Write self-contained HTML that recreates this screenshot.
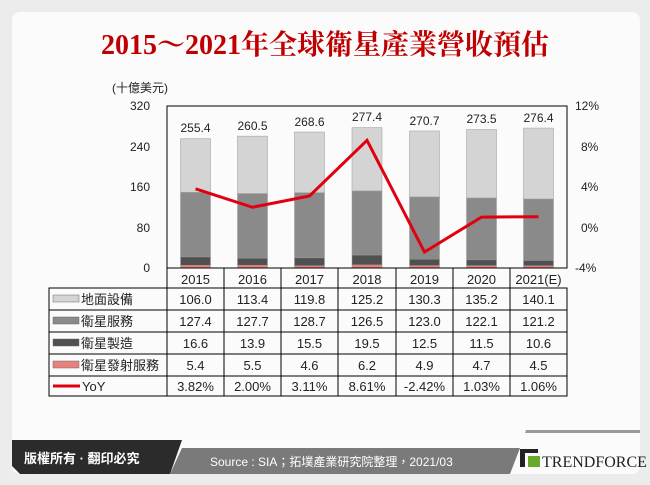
<!DOCTYPE html>
<html><head><meta charset="utf-8"><style>
body{margin:0;width:650px;height:485px;background:#ececec;overflow:hidden}
svg{display:block}
text{font-family:"Liberation Sans","Noto Sans CJK TC",sans-serif}
</style></head><body>
<svg width="650" height="485" viewBox="0 0 650 485" xmlns="http://www.w3.org/2000/svg">
<rect x="12" y="12" width="628" height="462" rx="8" fill="#fbfbfb"/>
<text x="325" y="54" text-anchor="middle" font-size="28" font-weight="bold" fill="#c00000" style="font-family:'Liberation Serif','Noto Serif CJK SC',serif">2015～2021年全球衛星產業營收預估</text>
<text x="112" y="92" font-size="12" fill="#222">(十億美元)</text>
<g font-size="12" fill="#222" text-anchor="end">
<text x="150" y="110">320</text><text x="150" y="151">240</text><text x="150" y="191">160</text><text x="150" y="232">80</text><text x="150" y="272">0</text>
</g>
<g font-size="12" fill="#222">
<text x="575" y="110">12%</text><text x="581" y="151">8%</text><text x="581" y="191">4%</text><text x="581" y="232">0%</text><text x="575" y="272">-4%</text>
</g>
<g stroke="#999" stroke-width="0.5">
<rect x="180.5" y="265.27" width="30" height="2.73" fill="#e88080"/><rect x="180.5" y="256.87" width="30" height="8.4" fill="#505050"/><rect x="180.5" y="192.37" width="30" height="64.5" fill="#8a8a8a"/><rect x="180.5" y="138.71" width="30" height="53.66" fill="#d4d4d4"/>
<rect x="237.5" y="265.22" width="30" height="2.78" fill="#e88080"/><rect x="237.5" y="258.18" width="30" height="7.04" fill="#505050"/><rect x="237.5" y="193.53" width="30" height="64.65" fill="#8a8a8a"/><rect x="237.5" y="136.12" width="30" height="57.41" fill="#d4d4d4"/>
<rect x="294.5" y="265.67" width="30" height="2.33" fill="#e88080"/><rect x="294.5" y="257.82" width="30" height="7.85" fill="#505050"/><rect x="294.5" y="192.67" width="30" height="65.15" fill="#8a8a8a"/><rect x="294.5" y="132.02" width="30" height="60.65" fill="#d4d4d4"/>
<rect x="352" y="264.86" width="30" height="3.14" fill="#e88080"/><rect x="352" y="254.99" width="30" height="9.87" fill="#505050"/><rect x="352" y="190.95" width="30" height="64.04" fill="#8a8a8a"/><rect x="352" y="127.57" width="30" height="63.38" fill="#d4d4d4"/>
<rect x="409.5" y="265.52" width="30" height="2.48" fill="#e88080"/><rect x="409.5" y="259.19" width="30" height="6.33" fill="#505050"/><rect x="409.5" y="196.92" width="30" height="62.27" fill="#8a8a8a"/><rect x="409.5" y="130.96" width="30" height="65.96" fill="#d4d4d4"/>
<rect x="466.5" y="265.62" width="30" height="2.38" fill="#e88080"/><rect x="466.5" y="259.8" width="30" height="5.82" fill="#505050"/><rect x="466.5" y="197.99" width="30" height="61.81" fill="#8a8a8a"/><rect x="466.5" y="129.54" width="30" height="68.45" fill="#d4d4d4"/>
<rect x="523.5" y="265.72" width="30" height="2.28" fill="#e88080"/><rect x="523.5" y="260.35" width="30" height="5.37" fill="#505050"/><rect x="523.5" y="198.99" width="30" height="61.36" fill="#8a8a8a"/><rect x="523.5" y="128.06" width="30" height="70.93" fill="#d4d4d4"/>
</g>
<g font-size="12" fill="#222" text-anchor="middle">
<text x="195.5" y="132">255.4</text><text x="252.5" y="130">260.5</text><text x="309.5" y="126">268.6</text><text x="367" y="121">277.4</text><text x="424.5" y="125">270.7</text><text x="481.5" y="123">273.5</text><text x="538.5" y="122">276.4</text>
</g>
<polyline points="195.5,188.8 252.5,207.25 309.5,196 367,140.3 424.5,252 481.5,217.07 538.5,216.77" fill="none" stroke="#e00010" stroke-width="3"/>
<rect x="167" y="106" width="400" height="162" fill="none" stroke="#000" stroke-width="1"/>
<g stroke="#000" stroke-width="1" fill="none">
<rect x="49" y="288" width="518" height="108"/>
<line x1="167" y1="268" x2="167" y2="396"/>
<line x1="49" y1="310" x2="567" y2="310"/><line x1="49" y1="332" x2="567" y2="332"/><line x1="49" y1="354" x2="567" y2="354"/><line x1="49" y1="376" x2="567" y2="376"/>
<line x1="224" y1="268" x2="224" y2="396"/><line x1="281" y1="268" x2="281" y2="396"/><line x1="338" y1="268" x2="338" y2="396"/><line x1="396" y1="268" x2="396" y2="396"/><line x1="453" y1="268" x2="453" y2="396"/><line x1="510" y1="268" x2="510" y2="396"/>
</g>
<g font-size="13" fill="#222" text-anchor="middle">
<text x="195.5" y="284">2015</text><text x="252.5" y="284">2016</text><text x="309.5" y="284">2017</text><text x="367" y="284">2018</text><text x="424.5" y="284">2019</text><text x="481.5" y="284">2020</text><text x="538.5" y="284">2021(E)</text>
<text x="195.5" y="304">106.0</text><text x="252.5" y="304">113.4</text><text x="309.5" y="304">119.8</text><text x="367" y="304">125.2</text><text x="424.5" y="304">130.3</text><text x="481.5" y="304">135.2</text><text x="538.5" y="304">140.1</text>
<text x="195.5" y="326">127.4</text><text x="252.5" y="326">127.7</text><text x="309.5" y="326">128.7</text><text x="367" y="326">126.5</text><text x="424.5" y="326">123.0</text><text x="481.5" y="326">122.1</text><text x="538.5" y="326">121.2</text>
<text x="195.5" y="348">16.6</text><text x="252.5" y="348">13.9</text><text x="309.5" y="348">15.5</text><text x="367" y="348">19.5</text><text x="424.5" y="348">12.5</text><text x="481.5" y="348">11.5</text><text x="538.5" y="348">10.6</text>
<text x="195.5" y="370">5.4</text><text x="252.5" y="370">5.5</text><text x="309.5" y="370">4.6</text><text x="367" y="370">6.2</text><text x="424.5" y="370">4.9</text><text x="481.5" y="370">4.7</text><text x="538.5" y="370">4.5</text>
<text x="195.5" y="391">3.82%</text><text x="252.5" y="391">2.00%</text><text x="309.5" y="391">3.11%</text><text x="367" y="391">8.61%</text><text x="424.5" y="391">-2.42%</text><text x="481.5" y="391">1.03%</text><text x="538.5" y="391">1.06%</text>
</g>
<rect x="53" y="295" width="26" height="7" fill="#d4d4d4" stroke="#666" stroke-width="0.5"/>
<rect x="53" y="317" width="26" height="7" fill="#8a8a8a" stroke="#666" stroke-width="0.5"/>
<rect x="53" y="339" width="26" height="7" fill="#505050" stroke="#666" stroke-width="0.5"/>
<rect x="53" y="361" width="26" height="7" fill="#e88080" stroke="#666" stroke-width="0.5"/>
<line x1="53" y1="386" x2="80" y2="386" stroke="#e00010" stroke-width="3"/>
<g font-size="13" fill="#222">
<text x="81" y="304">地面設備</text><text x="81" y="326">衛星服務</text><text x="81" y="348">衛星製造</text><text x="81" y="370">衛星發射服務</text><text x="82" y="391">YoY</text>
</g>
<polygon points="12,440 182,440 170,474 20,474 12,466" fill="#2b2b2b"/>
<polygon points="182,448 520,448 510,474 170,474" fill="#7a7a7a"/>
<polygon points="526,430 640,430 640,433 525,433" fill="#9a9a9a"/>
<text x="24" y="463" font-size="13" font-weight="bold" fill="#fff">版權所有 · 翻印必究</text>
<text x="210" y="466" font-size="12" fill="#fff">Source : SIA；拓墣產業研究院整理，2021/03</text>
<rect x="520" y="449" width="18" height="4" fill="#222"/><rect x="520" y="449" width="5" height="18" fill="#222"/>
<rect x="528" y="456" width="12" height="11" fill="#6aaa2a"/>
<text x="542" y="467" font-size="16" fill="#222" style="font-family:'Liberation Serif',serif">TRENDFORCE</text>
</svg>
</body></html>
